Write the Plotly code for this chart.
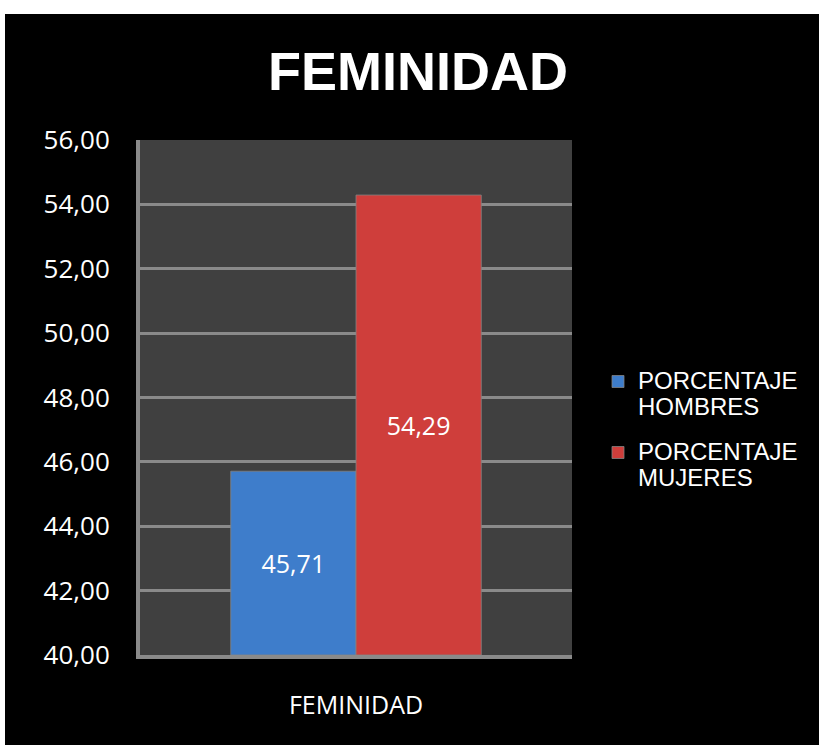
import plotly.graph_objects as go

categories = ["FEMINIDAD"]
series_names = ["PORCENTAJE<br>HOMBRES", "PORCENTAJE<br>MUJERES"]
hombres = [45.71]
mujeres = [54.29]
bar_colors = ["#3e7dcb", "#cf3e3b"]
y_ticks = [40, 42, 44, 46, 48, 50, 52, 54, 56]
AXIS_MIN, AXIS_MAX = 40, 56

W, H = 819, 745
ML, MR, MT, MB = 140, 247, 140, 90
PW, PH = W - ML - MR, H - MT - MB


def px_x(p):
    return (p - ML) / PW


def px_y(p):
    return (H - MB - p) / PH


def fmt(v):
    return f"{v:.2f}".replace(".", ",")


fig = go.Figure()
for name, vals, col, grp in [
    (series_names[0], hombres, bar_colors[0], "g1"),
    (series_names[1], mujeres, bar_colors[1], "g2"),
]:
    fig.add_trace(go.Bar(
        x=categories,
        base=[AXIS_MIN] * len(vals),
        y=[v - AXIS_MIN for v in vals],
        name=f'<span style="font-size:24px">{name}</span>',
        legendgroup=grp,
        marker=dict(color=col, line=dict(color="rgba(130,130,130,0.8)", width=1)),
        text=[fmt(v) for v in vals], textposition="inside",
        insidetextanchor="middle",
        textfont=dict(family="Open Sans", size=25, color="white"),
        hovertext=[fmt(v) for v in vals], hoverinfo="text+name",
    ))

fig.update_layout(
    width=W, height=H,
    margin=dict(l=ML, r=MR, t=MT, b=MB),
    paper_bgcolor="black",
    plot_bgcolor="#404040",
    barmode="group",
    bargap=0.42,
    bargroupgap=0,
    separators=",.",
    title=dict(
        text="<b>FEMINIDAD</b>",
        font=dict(family="Liberation Sans, Arial", size=54, color="white"),
        x=418 / W, xref="container", xanchor="center",
        y=1 - 71 / H, yref="container", yanchor="middle",
    ),
    legend=dict(
        x=px_x(598), xanchor="left",
        y=px_y(362), yanchor="top",
        font=dict(family="Liberation Sans, Arial", size=20, color="white"),
        bgcolor="rgba(0,0,0,0)",
        valign="top",
        tracegroupgap=16,
        itemwidth=30,
    ),
    showlegend=True,
)

fig.update_yaxes(
    range=[AXIS_MIN, AXIS_MAX], tickvals=y_ticks, ticktext=[fmt(v) for v in y_ticks],
    showgrid=True, gridcolor="#8a8a8a", gridwidth=3,
    showline=True, linecolor="#8a8a8a", linewidth=4,
    ticks="", ticklabelstandoff=21,
    tickfont=dict(family="Open Sans", size=26, color="white"),
    zeroline=False,
)
fig.update_xaxes(
    showline=True, linecolor="#8a8a8a", linewidth=4,
    ticks="", ticklabelstandoff=25,
    tickfont=dict(family="Open Sans", size=25, color="white"),
)

# white outer margin (top and left edges of the picture)
fig.add_shape(type="rect", xref="paper", yref="paper",
              x0=px_x(0), x1=px_x(5), y0=px_y(H), y1=px_y(0),
              fillcolor="white", line=dict(width=0), layer="above")
fig.add_shape(type="rect", xref="paper", yref="paper",
              x0=px_x(0), x1=px_x(W), y0=px_y(14), y1=px_y(0),
              fillcolor="white", line=dict(width=0), layer="above")

fig.write_html(
    "out.html",
    config={"displayModeBar": False},
    post_script=(
        "var s=document.createElement('style');"
        "s.textContent='html,body{margin:0;padding:0;overflow:hidden;background:#000;}';"
        "document.head.appendChild(s);"
        "var g=document.getElementById('{plot_id}');"
        "g.style.position='fixed';g.style.left='0px';g.style.top='0px';"
    ),
)
